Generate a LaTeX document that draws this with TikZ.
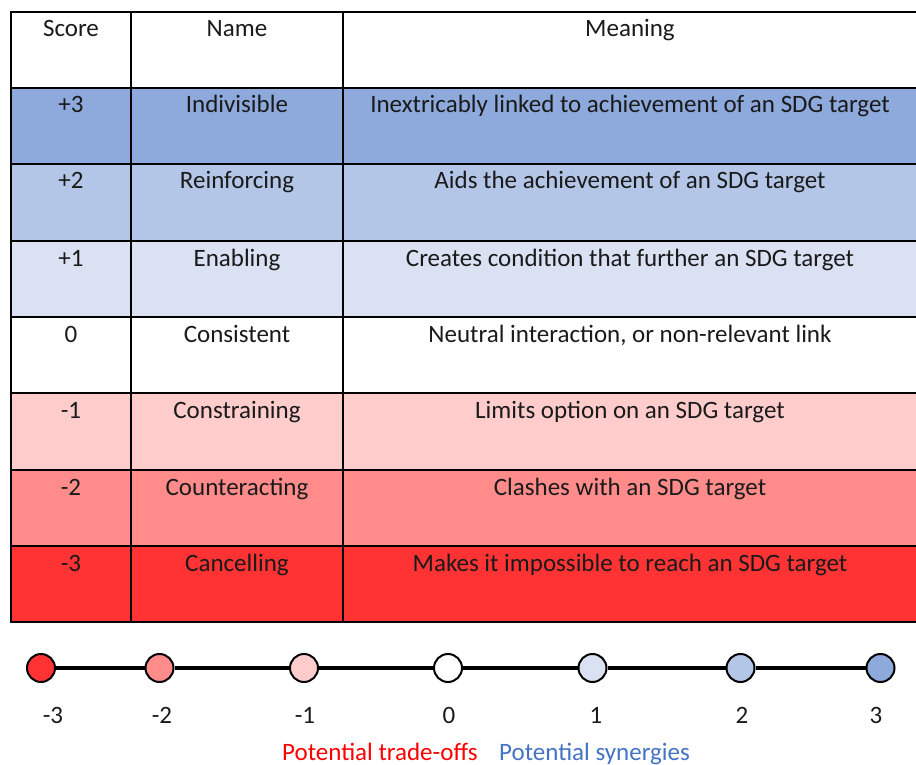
\documentclass[tikz,border=0pt]{standalone}
\usepackage{fontspec}
\setmainfont{Carlito}
\definecolor{bthree}{HTML}{8EA9DB}
\definecolor{btwo}{HTML}{B4C6E7}
\definecolor{bone}{HTML}{D9E1F2}
\definecolor{rone}{HTML}{FFCCCC}
\definecolor{rtwo}{HTML}{FF8B8B}
\definecolor{rthree}{HTML}{FF3333}
\definecolor{txtc}{HTML}{1A1A1A}
\definecolor{tradered}{HTML}{FF0000}
\definecolor{synblue}{HTML}{4472C4}
\begin{document}
\begin{tikzpicture}[x=1pt,y=-1pt,
  txt/.style={anchor=base, font=\fontsize{25}{30}\selectfont, text=txtc, inner sep=0pt},
  grid/.style={line width=2pt, line cap=rect},
  dot/.style={circle, draw=black, line width=2pt, minimum size=28pt, inner sep=0pt},
  link/.style={line width=4pt}]
\useasboundingbox (0,0) rectangle (916,765);
% row fills
\fill[bthree] (11,88) rectangle (916,164);
\fill[btwo] (11,164) rectangle (916,241);
\fill[bone] (11,241) rectangle (916,317);
\fill[rone] (11,393) rectangle (916,470);
\fill[rtwo] (11,470) rectangle (916,546);
\fill[rthree] (11,546) rectangle (916,622);
% grid
\foreach \y in {12,88,164,241,317,393,470,546,622} \draw[grid] (11,\y) -- (917,\y);
\foreach \x in {11,131,343} \draw[grid] (\x,12) -- (\x,622);
% header
\node[txt] (hs) at (71,37) {Score};
\node[txt] (hn) at (237,37) {Name};
\node[txt] (hm) at (630,37) {Meaning};
% rows
\node[txt] (s1) at (71,113) {+3};
\node[txt] (n1) at (237,113) {Indivisible};
\node[txt] (m1) at (630,113) {Inextricably linked to achievement of an SDG target};
\node[txt] (s2) at (71,189) {+2};
\node[txt] (n2) at (237,189) {Reinforcing};
\node[txt] (m2) at (630,189) {Aids the achievement of an SDG target};
\node[txt] (s3) at (71,266) {+1};
\node[txt] (n3) at (237,266) {Enabling};
\node[txt] (m3) at (630,266) {Creates condition that further an SDG target};
\node[txt] (s4) at (71,342) {0};
\node[txt] (n4) at (237,342) {Consistent};
\node[txt] (m4) at (630,342) {Neutral interaction, or non-relevant link};
\node[txt] (s5) at (71,418) {-1};
\node[txt] (n5) at (237,418) {Constraining};
\node[txt] (m5) at (630,418) {Limits option on an SDG target};
\node[txt] (s6) at (71,495) {-2};
\node[txt] (n6) at (237,495) {Counteracting};
\node[txt] (m6) at (630,495) {Clashes with an SDG target};
\node[txt] (s7) at (71,571) {-3};
\node[txt] (n7) at (237,571) {Cancelling};
\node[txt] (m7) at (630,571) {Makes it impossible to reach an SDG target};
% scale
\node[dot, fill=rthree] (cm3) at (41,668) {};
\node[dot, fill=rtwo] (cm2) at (159.5,668) {};
\node[dot, fill=rone] (cm1) at (304,668) {};
\node[dot, fill=white] (c0) at (448,668) {};
\node[dot, fill=bone] (cp1) at (592.5,668) {};
\node[dot, fill=btwo] (cp2) at (740.5,668) {};
\node[dot, fill=bthree] (cp3) at (880.5,668) {};
\draw[link] (cm3) -- (cm2);
\draw[link] (cm2) -- (cm1);
\draw[link] (cm1) -- (c0);
\draw[link] (c0) -- (cp1);
\draw[link] (cp1) -- (cp2);
\draw[link] (cp2) -- (cp3);
\node[txt] (lm3) at (53,723) {-3};
\node[txt] (lm2) at (162,723) {-2};
\node[txt] (lm1) at (305,723) {-1};
\node[txt] (l0) at (449,723) {0};
\node[txt] (lp1) at (596,723) {1};
\node[txt] (lp2) at (742,723) {2};
\node[txt] (lp3) at (876,723) {3};
\node[txt, anchor=base west, text=tradered] (to) at (282,760) {Potential trade-offs};
\node[txt, anchor=base west, text=synblue] (sy) at (499,760) {Potential synergies};
\end{tikzpicture}
\end{document}
